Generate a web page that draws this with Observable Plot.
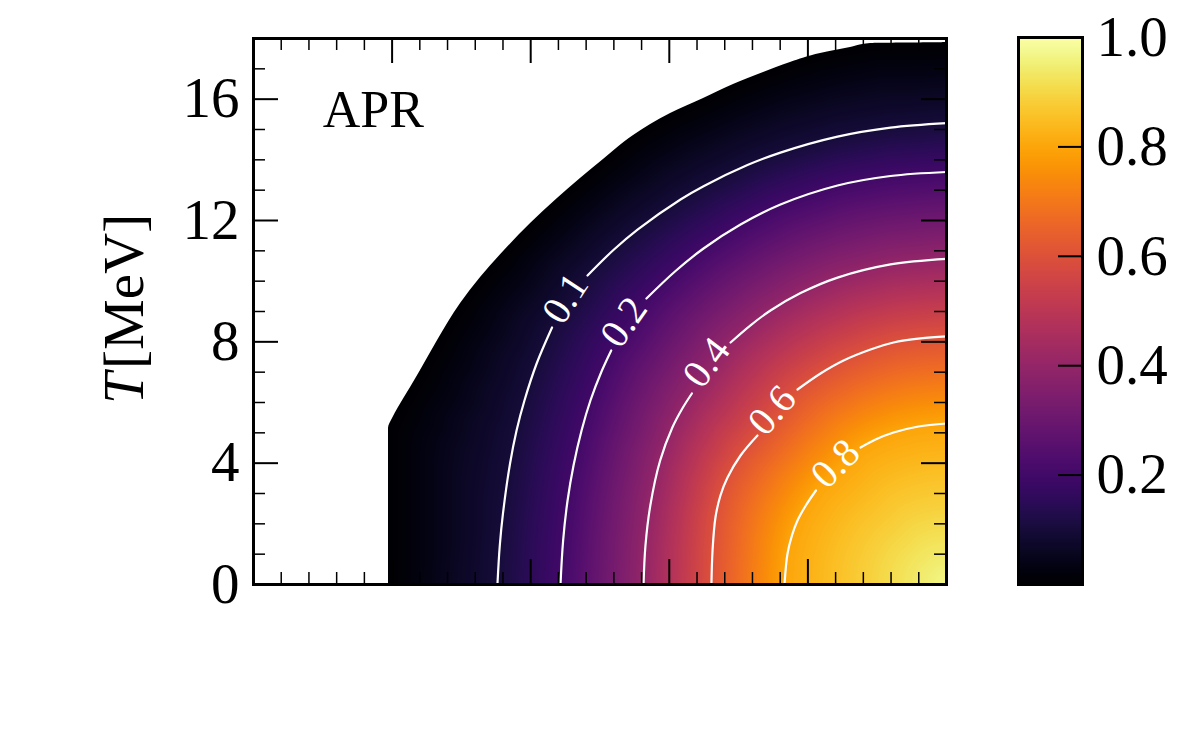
<!DOCTYPE html>
<html>
<head>
<meta charset="utf-8">
<script src="https://cdn.jsdelivr.net/npm/d3@7"></script>
<script src="https://cdn.jsdelivr.net/npm/@observablehq/plot@0.6"></script>
<style>
  html, body { margin: 0; padding: 0; background: #fff; }
  #wrap { position: relative; width: 1200px; height: 750px; overflow: hidden; font-family: "Liberation Serif", serif; }
  #main { position: absolute; left: 0; top: 0; }
  #cbar { position: absolute; left: 1000px; top: 0; }
  #ylabel { position: absolute; left: 123px; top: 309px; transform: translate(-50%, -50%) rotate(-90deg);
            font-size: 57px; white-space: nowrap; line-height: 1; color: #000; }
  #ylabel i { margin-right: 0.06em; }
</style>
</head>
<body>
<div id="wrap">
  <div id="main"></div>
  <div id="cbar"></div>
  <div id="ylabel"><i>T</i>[MeV]</div>
</div>
<script>
// ---------------- data ----------------
const panelLabel = "APR";

const xMajor = [1, 2, 3, 4];
const xMinor = [0.2, 0.4, 0.6, 0.8, 1.2, 1.4, 1.6, 1.8, 2.2, 2.4, 2.6, 2.8, 3.2, 3.4, 3.6, 3.8, 4.2, 4.4, 4.6, 4.8];
const yMajor = [0, 4, 8, 12, 16];
const yMinor = [1, 2, 3, 5, 6, 7, 9, 10, 11, 13, 14, 15, 17];
const cbTicks = [0.2, 0.4, 0.6, 0.8, 1.0];

const contourLevels = [0.1, 0.2, 0.4, 0.6, 0.8];
// contour traces [x, T]; null = gap left for the inline label
const contour01 = [[1.760, 0], [1.777, 1.286], [1.800, 2.341], [1.851, 3.989], [1.898, 5.077], [1.955, 6.066],
  [2.043, 7.286], [2.154, 8.473], null, [2.410, 10.187], [2.597, 11.028], [2.771, 11.700], [3.081, 12.692],
  [3.247, 13.131], [3.564, 13.826], [3.802, 14.239], [4.214, 14.766], [4.596, 15.063], [5.0, 15.211]];
const contour02 = [[2.215, 0], [2.234, 1.451], [2.266, 2.769], [2.309, 3.923], [2.367, 5.077], [2.431, 6.066],
  [2.508, 6.989], [2.581, 7.714], null, [2.835, 9.429], [3.045, 10.335], [3.247, 11.077], [3.514, 11.868],
  [3.802, 12.527], [4.214, 13.154], [4.596, 13.467], [5.0, 13.599]];
const contour04 = [[2.814, 0], [2.828, 1.286], [2.863, 2.604], [2.934, 4.088], [3.022, 5.176], [3.094, 5.802],
  [3.163, 6.297], null, [3.442, 7.978], [3.586, 8.545], [3.730, 9.033], [3.947, 9.607], [4.214, 10.118],
  [4.596, 10.553], [5.0, 10.737]];
const contour06 = [[3.304, 0], [3.312, 1.121], [3.333, 2.209], [3.369, 2.934], [3.420, 3.528], [3.514, 4.253],
  [3.636, 4.913], null, [3.925, 6.429], [4.091, 6.957], [4.257, 7.385], [4.452, 7.748], [4.618, 7.979],
  [4.812, 8.111], [5.0, 8.177]];
const contour08 = [[3.831, 0], [3.853, 1.022], [3.885, 1.616], [3.925, 2.110], [3.985, 2.605], [4.058, 3.099],
  null, [4.380, 4.517], [4.488, 4.781], [4.618, 5.011], [4.798, 5.209], [5.0, 5.308]];

// inline contour labels (data coordinates) and their angles
const labelX = [2.25, 2.672, 3.268, 3.742, 4.199];
const labelT = [9.43, 8.65, 7.32, 5.74, 3.98];
const labelAngle = [-57, -55, -53, -49, -45];

// edge of the region where the quantity is defined (value ~0 there)
const boundaryX = [0.974, 0.974, 1.003, 1.046, 1.133, 1.205, 1.328, 1.494, 1.638, 1.804, 1.999, 2.193, 2.359,
  2.525, 2.742, 3.009, 3.247, 3.463, 3.680, 3.874, 4.091, 4.307, 4.452, 5.0, 5.0];
const boundaryT = [0, 5.143, 5.473, 5.835, 6.495, 7.055, 8.044, 9.264, 10.121, 10.978, 11.901, 12.725, 13.385,
  14.011, 14.802, 15.527, 16.022, 16.484, 16.879, 17.209, 17.505, 17.703, 17.835, 17.868, 18];
const boundaryValue = 0;

// extra sample at the bright corner
const cornerX = [5.0];
const cornerT = [0];
const cornerV = [0.97];

// ---------------- build tables ----------------
const contours = [contour01, contour02, contour04, contour06, contour08];
const lineRows = contours.flatMap((c, k) => c.map(p => p
  ? {level: contourLevels[k], x: p[0], T: p[1]}
  : {level: contourLevels[k], x: NaN, T: NaN}));
const boundary = boundaryX.map((x, i) => ({x, T: boundaryT[i]}));
const samples = [
  ...lineRows.filter(d => !isNaN(d.x)).map(d => ({x: d.x, T: d.T, v: d.level})),
  ...boundary.filter(d => d.T < 18).map(d => ({x: d.x, T: d.T, v: boundaryValue})),
  ...cornerX.map((x, i) => ({x, T: cornerT[i], v: cornerV[i]}))
];
const labels = contourLevels.map((l, i) => ({text: String(l), x: labelX[i], T: labelT[i], a: labelAngle[i]}));

// ---------------- main panel ----------------
const W = 960, H = 750, mL = 253, mR = 14, mT = 38, mB = 166;
const plotW = W - mL - mR, plotH = H - mT - mB;
const majorLen = 25, minorLen = 12;
const font = "'Liberation Serif', serif";

const main = Plot.plot({
  width: W, height: H,
  marginLeft: mL, marginRight: mR, marginTop: mT, marginBottom: mB,
  x: {domain: [0, 5], axis: null},
  y: {domain: [0, 18], axis: null},
  color: {type: "linear", scheme: "inferno", domain: [0, 1]},
  style: {fontFamily: font, fontSize: "57px", background: "transparent", overflow: "visible"},
  marks: [
    Plot.raster(samples, {x: "x", y: "T", fill: "v", interpolate: "barycentric"}),
    Plot.areaX(boundary, {y: "T", x1: 0, x2: "x", fill: "white", curve: "monotone-y"}),
    Plot.line(lineRows, {x: "x", y: "T", z: "level", stroke: "white", strokeWidth: 2.2, curve: "catmull-rom"}),
    Plot.text(labels, {x: "x", y: "T", text: "text", rotate: "a", fill: "white", fontSize: 40, fontFamily: font}),
    Plot.text([panelLabel], {x: 0.5, y: 15.07, text: d => d, textAnchor: "start", lineAnchor: "bottom", fontSize: 52, fontFamily: font, fill: "black"}),
    // inward ticks on all four sides
    Plot.tickX(xMajor, {x: d => d, insetTop: plotH - majorLen, stroke: "black", strokeWidth: 2}),
    Plot.tickX(xMajor, {x: d => d, insetBottom: plotH - majorLen, stroke: "black", strokeWidth: 2}),
    Plot.tickX(xMinor, {x: d => d, insetTop: plotH - minorLen, stroke: "black", strokeWidth: 1.5}),
    Plot.tickX(xMinor, {x: d => d, insetBottom: plotH - minorLen, stroke: "black", strokeWidth: 1.5}),
    Plot.tickY(yMajor, {y: d => d, insetRight: plotW - majorLen, stroke: "black", strokeWidth: 2}),
    Plot.tickY(yMajor, {y: d => d, insetLeft: plotW - majorLen, stroke: "black", strokeWidth: 2}),
    Plot.tickY(yMinor, {y: d => d, insetRight: plotW - minorLen, stroke: "black", strokeWidth: 1.5}),
    Plot.tickY(yMinor, {y: d => d, insetLeft: plotW - minorLen, stroke: "black", strokeWidth: 1.5}),
    Plot.axisY(yMajor, {anchor: "left", tickSize: 0, tickPadding: 14, fontSize: 57, fontFamily: font, label: null, fill: "black"}),
    Plot.frame({stroke: "black", strokeWidth: 3})
  ]
});
document.getElementById("main").appendChild(main);

// ---------------- colorbar ----------------
const cbW = 64;
const cbar = Plot.plot({
  width: 200, height: 750,
  marginLeft: 18, marginRight: 200 - 18 - cbW, marginTop: 37, marginBottom: 166,
  x: {domain: [0, 1], axis: null},
  y: {domain: [0, 1], axis: null},
  color: {type: "linear", scheme: "inferno", domain: [0, 1]},
  style: {fontFamily: font, fontSize: "57px", background: "transparent", overflow: "visible"},
  marks: [
    Plot.raster({fill: (x, y) => y, x1: 0, x2: 1, y1: 0, y2: 1}),
    Plot.tickY(cbTicks.filter(d => d < 1), {y: d => d, insetLeft: cbW - 24, stroke: "black", strokeWidth: 2}),
    Plot.axisY(cbTicks, {anchor: "right", tickSize: 0, tickPadding: 14, tickFormat: d => d.toFixed(1), fontSize: 57, fontFamily: font, label: null, fill: "black"}),
    Plot.frame({stroke: "black", strokeWidth: 3})
  ]
});
document.getElementById("cbar").appendChild(cbar);
</script>
</body>
</html>
